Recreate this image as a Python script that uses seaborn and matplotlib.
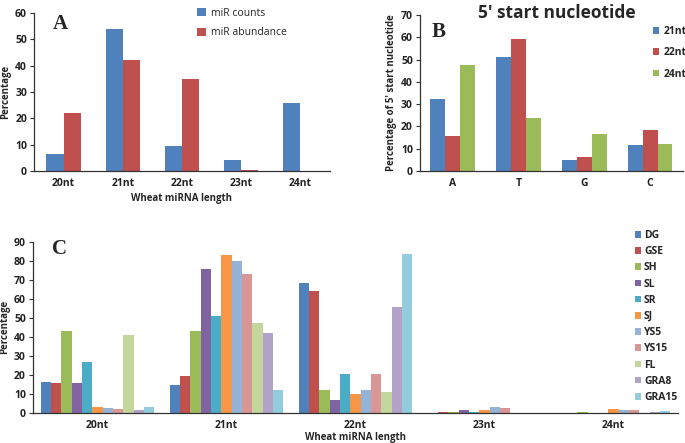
import pandas as pd
import matplotlib.pyplot as plt
import seaborn as sns

# Panel A: miRNA length distribution
lengths = ["20nt", "21nt", "22nt", "23nt", "24nt"]
mir_counts = [6.3, 54.0, 9.5, 4.0, 25.8]
mir_abundance = [22.0, 42.0, 35.0, 0.5, 0.0]

# Panel B: 5' start nucleotide
nucleotides = ["A", "T", "G", "C"]
start_21nt = [32.5, 51.0, 4.8, 11.5]
start_22nt = [15.8, 59.3, 6.5, 18.2]
start_24nt = [47.5, 24.0, 16.5, 12.3]

# Panel C: length distribution per library
libraries = ["DG", "GSE", "SH", "SL", "SR", "SJ", "YS5", "YS15", "FL", "GRA8", "GRA15"]
lib_20nt = [16.0, 15.5, 43.0, 15.5, 27.0, 3.0, 2.5, 2.0, 41.0, 1.5, 3.0]
lib_21nt = [14.5, 19.5, 43.0, 75.5, 51.0, 83.0, 80.0, 73.0, 47.5, 42.0, 12.0]
lib_22nt = [68.5, 64.0, 12.0, 7.0, 20.5, 10.0, 12.0, 20.5, 11.0, 55.5, 83.5]
lib_23nt = [0.0, 0.5, 0.3, 1.5, 0.3, 1.5, 3.0, 2.5, 0.0, 0.0, 0.0]
lib_24nt = [0.0, 0.0, 0.3, 0.0, 0.0, 2.0, 1.5, 1.5, 0.0, 0.3, 0.8]

excel = ["#4F81BD", "#C0504D", "#9BBB59", "#8064A2", "#4BACC6", "#F79646",
         "#95B3D7", "#D99694", "#C3D69B", "#B3A2C7", "#93CDDD"]

sns.set_style("white")
plt.rcParams["font.family"] = ["Open Sans", "DejaVu Sans"]

df_a = pd.DataFrame({
    "length": lengths * 2,
    "value": mir_counts + mir_abundance,
    "series": ["miR counts"] * 5 + ["miR abundance"] * 5,
})
df_b = pd.DataFrame({
    "nt": nucleotides * 3,
    "value": start_21nt + start_22nt + start_24nt,
    "series": ["21nt"] * 4 + ["22nt"] * 4 + ["24nt"] * 4,
})
rows = []
for name, vals in zip(lengths, [lib_20nt, lib_21nt, lib_22nt, lib_23nt, lib_24nt]):
    for lib, v in zip(libraries, vals):
        rows.append((name, lib, v))
df_c = pd.DataFrame(rows, columns=["length", "library", "value"])

fig = plt.figure(figsize=(6.85, 4.43), dpi=100)
ax_a = fig.add_axes([0.0496, 0.614, 0.432, 0.357])
ax_b = fig.add_axes([0.613, 0.614, 0.384, 0.352])
ax_c = fig.add_axes([0.048, 0.068, 0.942, 0.386])


def style_axis(ax, n, ymax, step):
    ax.set_xlim(-0.5, n - 0.5)
    ax.set_ylim(0, ymax)
    ax.set_yticks(range(0, ymax + 1, step))
    ax.set_xticks([i - 0.5 for i in range(n + 1)], minor=True)
    ax.tick_params(axis="x", which="major", length=0, pad=5)
    ax.tick_params(axis="x", which="minor", length=3, width=0.8, direction="out", color="#333333")
    ax.tick_params(axis="y", length=3, width=0.8, direction="out", color="#333333", pad=2, left=True)
    for lab in ax.get_xticklabels() + ax.get_yticklabels():
        lab.set_fontsize(7.5)
        lab.set_fontweight("bold")
        lab.set_color("#222222")
    for s in ["top", "right"]:
        ax.spines[s].set_visible(False)
    for s in ["left", "bottom"]:
        ax.spines[s].set_color("#333333")
        ax.spines[s].set_linewidth(0.9)


# A
sns.barplot(data=df_a, x="length", y="value", hue="series", palette=excel[:2],
            width=0.58, saturation=1, linewidth=0, ax=ax_a)
style_axis(ax_a, 5, 60, 10)
ax_a.set_xlabel("Wheat miRNA length", fontsize=7, fontweight="bold", labelpad=3)
ax_a.set_ylabel("Percentage", fontsize=7, fontweight="bold", labelpad=3)
ax_a.legend(loc="upper left", bbox_to_anchor=(0.52, 1.09), frameon=False, fontsize=7.5,
            handlelength=0.8, handleheight=0.8, handletextpad=0.5, labelspacing=0.8)
ax_a.text(0.065, 0.93, "A", transform=ax_a.transAxes, fontsize=15, fontweight="bold",
          family="Liberation Serif", va="center")

# B
sns.barplot(data=df_b, x="nt", y="value", hue="series", palette=excel[:3],
            width=0.68, saturation=1, linewidth=0, ax=ax_b)
style_axis(ax_b, 4, 70, 10)
ax_b.set_xlabel("")
ax_b.set_ylabel("Percentage of 5' start nucleotide", fontsize=7, fontweight="bold", labelpad=3)
ax_b.legend(loc="upper left", bbox_to_anchor=(0.85, 0.99), frameon=False,
            prop={"weight": "bold", "size": 7.5},
            handlelength=0.6, handleheight=0.6, handletextpad=0.4, labelspacing=1.0)
ax_b.text(0.045, 0.89, "B", transform=ax_b.transAxes, fontsize=15, fontweight="bold",
          family="Liberation Serif", va="center")
ax_b.set_title("5' start nucleotide", fontsize=12.5, fontweight="bold", pad=-2, x=0.52)

# C
sns.barplot(data=df_c, x="length", y="value", hue="library", palette=excel,
            width=0.88, saturation=1, linewidth=0, ax=ax_c)
style_axis(ax_c, 5, 90, 10)
ax_c.set_xlabel("Wheat miRNA length", fontsize=7, fontweight="bold", labelpad=1)
ax_c.set_ylabel("Percentage", fontsize=7, fontweight="bold", labelpad=3)
ax_c.legend(loc="upper left", bbox_to_anchor=(0.918, 1.125), frameon=False,
            prop={"weight": "bold", "size": 7.5},
            handlelength=0.6, handleheight=0.6, handletextpad=0.3, labelspacing=0.5)
ax_c.text(0.03, 0.96, "C", transform=ax_c.transAxes, fontsize=15, fontweight="bold",
          family="Liberation Serif", va="center")

fig.savefig("out.png", dpi=100)
